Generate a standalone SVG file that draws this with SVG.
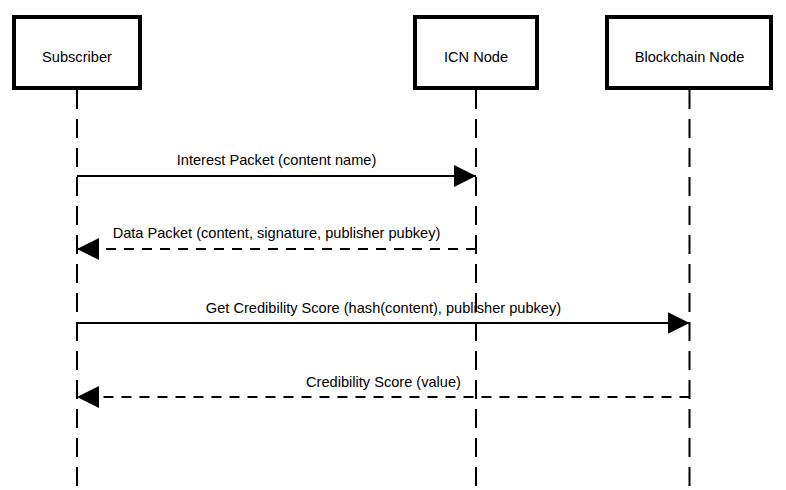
<svg xmlns="http://www.w3.org/2000/svg" width="786" height="490" viewBox="0 0 786 490">
  <style>
    .box { fill: #ffffff; stroke: #000000; stroke-width: 4; }
    .label { font-family: "Liberation Sans", Arial, Helvetica, sans-serif; font-size: 14.6px; fill: #000000; text-anchor: middle; }
    .life { stroke: #000000; stroke-width: 2; stroke-dasharray: 19 10; fill: none; }
    .msg { stroke: #000000; stroke-width: 2; fill: none; marker-end: url(#arrow); }
    .dashed { stroke-dasharray: 10 8; }
  </style>
  <defs>
    <marker id="arrow" markerUnits="userSpaceOnUse" markerWidth="22" markerHeight="22" viewBox="0 0 22 22" refX="22" refY="11" orient="auto">
      <path d="M0,0 L22,11 L0,22 Z" fill="#000000"/>
    </marker>
  </defs>
  <rect x="0" y="0" width="786" height="490" fill="#ffffff"/>
  <g id="lifelines">
    <line class="life" x1="77" y1="90" x2="77" y2="490"/>
    <line class="life" x1="476" y1="90" x2="476" y2="490"/>
    <line class="life" x1="689.5" y1="90" x2="689.5" y2="490"/>
  </g>
  <g id="node-subscriber">
    <rect class="box" x="14" y="17" width="126" height="71"/>
    <text class="label" x="77" y="62">Subscriber</text>
  </g>
  <g id="node-icn">
    <rect class="box" x="415" y="17" width="122" height="71"/>
    <text class="label" x="476" y="62">ICN Node</text>
  </g>
  <g id="node-blockchain">
    <rect class="box" x="607" y="17" width="164" height="71"/>
    <text class="label" x="689.5" y="62">Blockchain Node</text>
  </g>
  <g id="connectors">
    <path class="msg" d="M77,176 L476,176"/>
    <text class="label" x="276.5" y="164.5">Interest Packet (content name)</text>
    <path class="msg dashed" d="M476,249 L77,249"/>
    <text class="label" x="276.5" y="238">Data Packet (content, signature, publisher pubkey)</text>
    <path class="msg" d="M77,323 L689.5,323"/>
    <text class="label" x="383.5" y="312.5">Get Credibility Score (hash(content), publisher pubkey)</text>
    <path class="msg dashed" d="M689.5,397 L77,397"/>
    <text class="label" x="383.5" y="387">Credibility Score (value)</text>
  </g>
</svg>
